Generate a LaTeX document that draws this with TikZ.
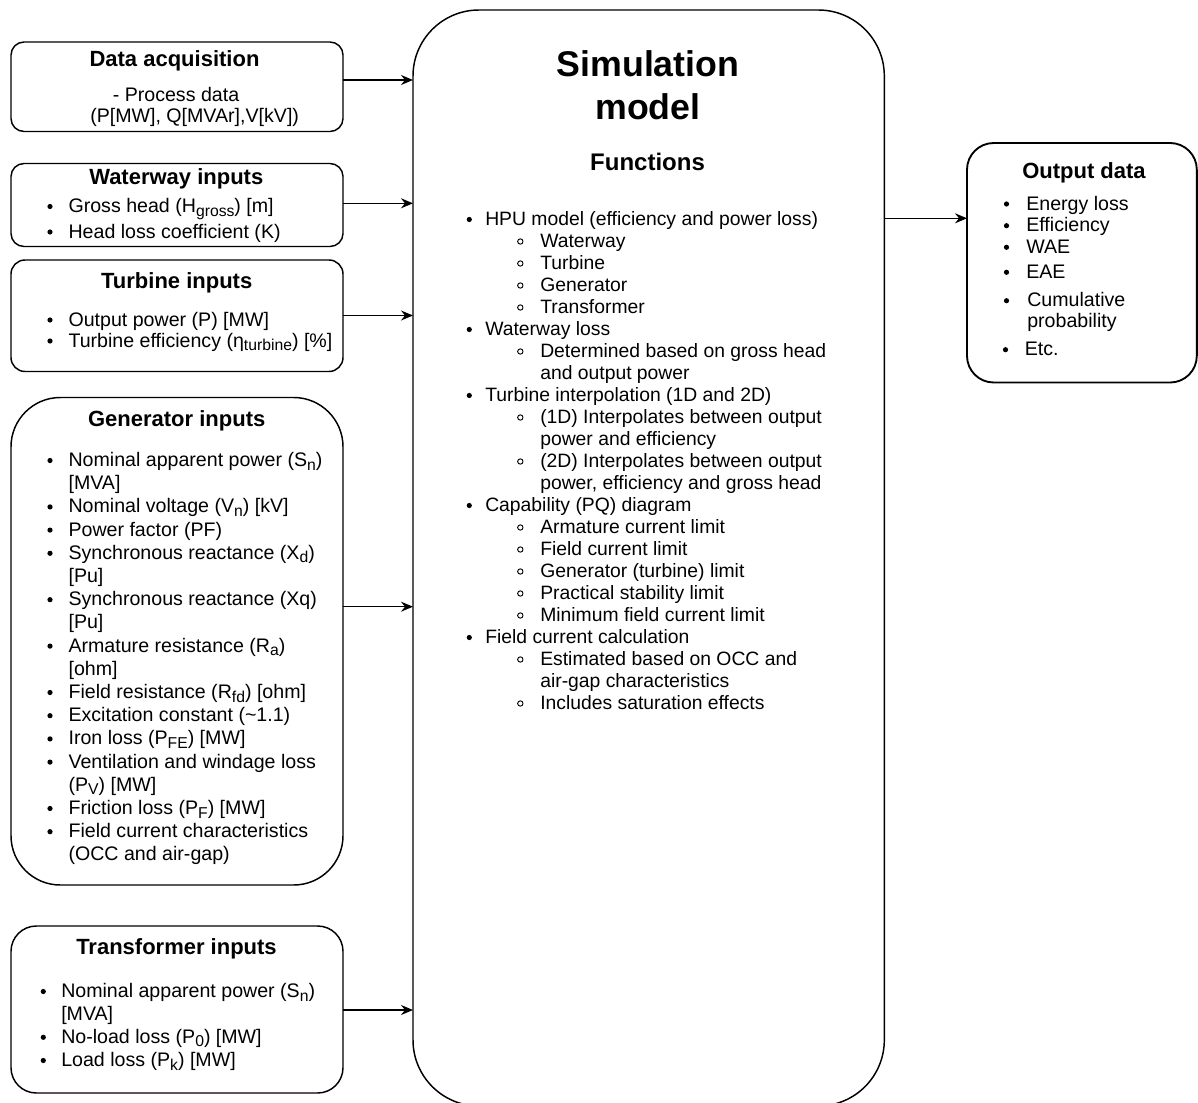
\documentclass[tikz,border=0pt]{standalone}
\usepackage{fontspec}
\setmainfont{Liberation Sans}
\usetikzlibrary{arrows.meta,fit}
\newcommand\itm[6]{\node[bdot,yshift=4.5pt] (#1b) at (#3,#5) {}; \node[#2] (#1) at (#4,#5) {#6};}
\newcommand\sitm[6]{\node[cdot,yshift=4.5pt] (#1b) at (#3,#5) {}; \node[#2] (#1) at (#4,#5) {#6};}
\newcommand\sbs[1]{\raisebox{-0.18em}{\fontsize{11.8}{12}\selectfont #1}}
\begin{document}
\begin{tikzpicture}[x=0.75pt,y=-0.75pt,
  box/.style={draw=black, line width=1.1pt, fill=white, inner sep=0pt, outer sep=0pt},
  ttl/.style={font=\fontsize{16.5}{19}\selectfont\bfseries, anchor=base, inner sep=0pt},
  txt/.style={font=\fontsize{14.7}{17}\selectfont, anchor=base west, inner sep=0pt},
  mtxt/.style={font=\fontsize{14.5}{17}\selectfont, anchor=base west, inner sep=0pt},
  bdot/.style={circle, fill=black, inner sep=0pt, minimum size=3.9pt},
  cdot/.style={circle, draw=black, line width=0.7pt, inner sep=0pt, minimum size=4pt},
  arr/.style={-{Stealth[length=9pt,width=7.5pt,inset=3pt]}, line width=1.1pt},
]
\useasboundingbox (0,0) rectangle (1198,1102);
\clip (0,0) rectangle (1198,1102);

% boxes
\node[box, rounded corners=9.75pt, fit={(11,42) (343,131.5)}] (da) {};
\node[box, rounded corners=9.75pt, fit={(11,163.5) (343,246.5)}] (ww) {};
\node[box, rounded corners=10.5pt, fit={(11,260) (343,371.5)}] (tu) {};
\node[box, rounded corners=37pt, fit={(11,397.5) (343,885)}] (ge) {};
\node[box, rounded corners=19pt, fit={(11,926) (343,1093)}] (tr) {};
\node[box, rounded corners=49.5pt, fit={(413,10) (884.3,1106)}] (sim) {};
\node[box, line width=1.4pt, rounded corners=20pt, fit={(967,143) (1196.8,382.5)}] (out) {};

% arrow levels
\coordinate (y1) at (0,80);
\coordinate (y2) at (0,203.3);
\coordinate (y3) at (0,315.5);
\coordinate (y4) at (0,606.7);
\coordinate (y5) at (0,1010);
\coordinate (y6) at (0,218.3);
\draw[arr] (da.east |- y1) -- (sim.west |- y1);
\draw[arr] (ww.east |- y2) -- (sim.west |- y2);
\draw[arr] (tu.east |- y3) -- (sim.west |- y3);
\draw[arr] (ge.east |- y4) -- (sim.west |- y4);
\draw[arr] (tr.east |- y5) -- (sim.west |- y5);
\draw[arr] (sim.east |- y6) -- (out.west |- y6);

% Data acquisition
\node[ttl] (dat) at (174.5,67) {Data acquisition};
\node[txt, anchor=base] (da1) at (176,101.7) {- Process data};
\node[txt] (da2) at (90,122.3) {(P[MW], Q[MVAr],V[kV])};

% Waterway
\node[ttl] (wwt) at (176.3,184) {Waterway inputs};
\itm{ww1}{txt}{50}{68.3}{212.5}{Gross head (H\sbs{gross}) [m]}
\itm{ww2}{txt}{50}{68.3}{238}{Head loss coefficient (K)}

% Turbine
\node[ttl] (tut) at (176.7,288) {Turbine inputs};
\itm{tu1}{txt}{50}{68.3}{326}{Output power (P) [MW]}
\itm{tu2}{txt}{50}{68.3}{347}{Turbine efficiency (η\sbs{turbine}) [\%]}

% Generator
\node[ttl] (get) at (176.7,426.7) {Generator inputs};
\itm{g0}{txt}{50}{68.3}{466.5}{Nominal apparent power (S\sbs{n})}
\node[txt] (g1) at (68.3,489.7) {[MVA]};
\itm{g2}{txt}{50}{68.3}{512.9}{Nominal voltage (V\sbs{n}) [kV]}
\itm{g3}{txt}{50}{68.3}{536.1}{Power factor (PF)}
\itm{g4}{txt}{50}{68.3}{559.3}{Synchronous reactance (X\sbs{d})}
\node[txt] (g5) at (68.3,582.5) {[Pu]};
\itm{g6}{txt}{50}{68.3}{605.7}{Synchronous reactance (Xq)}
\node[txt] (g7) at (68.3,628.9) {[Pu]};
\itm{g8}{txt}{50}{68.3}{652.1}{Armature resistance (R\sbs{a})}
\node[txt] (g9) at (68.3,675.3) {[ohm]};
\itm{g10}{txt}{50}{68.3}{698.5}{Field resistance (R\sbs{fd}) [ohm]}
\itm{g11}{txt}{50}{68.3}{721.7}{Excitation constant (\textasciitilde 1.1)}
\itm{g12}{txt}{50}{68.3}{744.9}{Iron loss (P\sbs{FE}) [MW]}
\itm{g13}{txt}{50}{68.3}{768.1}{Ventilation and windage loss}
\node[txt] (g14) at (68.3,791.3) {(P\sbs{V}) [MW]};
\itm{g15}{txt}{50}{68.3}{814.5}{Friction loss (P\sbs{F}) [MW]}
\itm{g16}{txt}{50}{68.3}{837.7}{Field current characteristics}
\node[txt] (g17) at (68.3,860.9) {(OCC and air-gap)};

% Transformer
\node[ttl] (trt) at (176.5,954.3) {Transformer inputs};
\itm{t0}{txt}{43.3}{61}{997.5}{Nominal apparent power (S\sbs{n})}
\node[txt] (t1) at (61,1020.5) {[MVA]};
\itm{t2}{txt}{43.3}{61}{1043.3}{No-load loss (P\sbs{0}) [MW]}
\itm{t3}{txt}{43.3}{61}{1066.5}{Load loss (P\sbs{k}) [MW]}

% Simulation model
\node[font=\fontsize{26.8}{32}\selectfont\bfseries, anchor=base, inner sep=0pt] (sm1) at (648,76.7) {Simulation};
\node[font=\fontsize{26.8}{32}\selectfont\bfseries, anchor=base, inner sep=0pt] (sm2) at (648,120) {model};
\node[font=\fontsize{18}{21}\selectfont\bfseries, anchor=base, inner sep=0pt] (fun) at (647.5,170.7) {Functions};

\itm{m0}{mtxt}{469.3}{485}{225.5}{HPU model (efficiency and power loss)}
\sitm{m1}{mtxt}{520.3}{540}{247.5}{Waterway}
\sitm{m2}{mtxt}{520.3}{540}{269.5}{Turbine}
\sitm{m3}{mtxt}{520.3}{540}{291.5}{Generator}
\sitm{m4}{mtxt}{520.3}{540}{313.5}{Transformer}
\itm{m5}{mtxt}{469.3}{485}{335.5}{Waterway loss}
\sitm{m6}{mtxt}{520.3}{540}{357.5}{Determined based on gross head}
\node[mtxt] (m7) at (540,379.5) {and output power};
\itm{m8}{mtxt}{469.3}{485}{401.5}{Turbine interpolation (1D and 2D)}
\sitm{m9}{mtxt}{520.3}{540}{423.5}{(1D) Interpolates between output}
\node[mtxt] (m10) at (540,445.5) {power and efficiency};
\sitm{m11}{mtxt}{520.3}{540}{467.5}{(2D) Interpolates between output}
\node[mtxt] (m12) at (540,489.5) {power, efficiency and gross head};
\itm{m13}{mtxt}{469.3}{485}{511.5}{Capability (PQ) diagram}
\sitm{m14}{mtxt}{520.3}{540}{533.5}{Armature current limit}
\sitm{m15}{mtxt}{520.3}{540}{555.5}{Field current limit}
\sitm{m16}{mtxt}{520.3}{540}{577.5}{Generator (turbine) limit}
\sitm{m17}{mtxt}{520.3}{540}{599.5}{Practical stability limit}
\sitm{m18}{mtxt}{520.3}{540}{621.5}{Minimum field current limit}
\itm{m19}{mtxt}{469.3}{485}{643.5}{Field current calculation}
\sitm{m20}{mtxt}{520.3}{540}{665.5}{Estimated based on OCC and}
\node[mtxt] (m21) at (540,687.5) {air-gap characteristics};
\sitm{m22}{mtxt}{520.3}{540}{709.5}{Includes saturation effects}

% Output data
\node[ttl] (outt) at (1084,178.3) {Output data};
\itm{o1}{txt}{1006.5}{1026}{210}{Energy loss}
\itm{o2}{txt}{1006.5}{1026}{231.7}{Efficiency}
\itm{o3}{txt}{1006.5}{1026}{253.3}{WAE}
\itm{o4}{txt}{1006.5}{1026}{278.3}{EAE}
\itm{o5}{txt}{1006.5}{1027}{306.7}{Cumulative}
\node[txt] (o6) at (1027,327.3) {probability};
\itm{o7}{txt}{1005.5}{1024.5}{355.7}{Etc.}
\end{tikzpicture}
\end{document}
